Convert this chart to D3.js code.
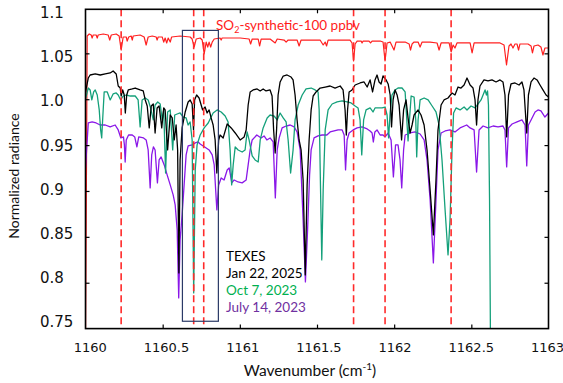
<!DOCTYPE html>
<html>
<head>
<meta charset="utf-8">
<script src="https://cdn.jsdelivr.net/npm/d3@7"></script>
<style>
  html, body { margin: 0; padding: 0; background: #fff; }
  svg { display: block; }
</style>
</head>
<body>
<svg id="chart" width="563" height="383"></svg>
<script>
// Synthetic SO2 spectrum (100 ppbv), [wavenumber cm^-1, normalized radiance]
const so2Synthetic = [
  [1160.000, 0.730], [1160.011, 1.0689], [1160.024, 1.0711], [1160.037, 1.0700], [1160.043, 1.0667],
  [1160.050, 1.0700], [1160.069, 1.0700], [1160.076, 1.0667], [1160.082, 1.0700], [1160.115, 1.0711],
  [1160.147, 1.0700], [1160.157, 1.0645], [1160.167, 1.0700], [1160.199, 1.0711], [1160.218, 1.0689],
  [1160.231, 1.0536], [1160.244, 1.0678], [1160.264, 1.0678], [1160.270, 1.0634], [1160.280, 1.0678],
  [1160.296, 1.0689], [1160.303, 1.0645], [1160.309, 1.0689], [1160.354, 1.0700], [1160.380, 1.0678],
  [1160.393, 1.0591], [1160.406, 1.0678], [1160.432, 1.0689], [1160.458, 1.0678], [1160.464, 1.0645],
  [1160.471, 1.0678], [1160.497, 1.0678], [1160.507, 1.0623], [1160.516, 1.0667], [1160.526, 1.0613],
  [1160.536, 1.0667], [1160.549, 1.0623], [1160.558, 1.0678], [1160.613, 1.0689], [1160.678, 1.0678],
  [1160.691, 1.0656], [1160.704, 1.0569], [1160.717, 1.0656], [1160.743, 1.0667], [1160.756, 1.0645],
  [1160.769, 1.0493], [1160.782, 1.0623], [1160.792, 1.0569], [1160.801, 1.0623], [1160.811, 1.0569],
  [1160.821, 1.0623], [1160.834, 1.0656], [1160.872, 1.0667], [1160.879, 1.0645], [1160.885, 1.0667],
  [1161.002, 1.0667], [1161.060, 1.0656], [1161.070, 1.0602], [1161.080, 1.0656], [1161.119, 1.0656],
  [1161.128, 1.0580], [1161.138, 1.0656], [1161.196, 1.0656], [1161.229, 1.0613], [1161.242, 1.0656],
  [1161.287, 1.0645], [1161.300, 1.0623], [1161.313, 1.0645], [1161.371, 1.0645], [1161.384, 1.0580],
  [1161.397, 1.0645], [1161.520, 1.0645], [1161.540, 1.0591], [1161.553, 1.0623], [1161.562, 1.0580],
  [1161.572, 1.0645], [1161.650, 1.0645], [1161.714, 1.0645], [1161.727, 1.0613], [1161.737, 1.0417],
  [1161.747, 1.0602], [1161.760, 1.0634], [1161.786, 1.0634], [1161.792, 1.0613], [1161.799, 1.0634],
  [1161.837, 1.0634], [1161.847, 1.0613], [1161.857, 1.0634], [1161.909, 1.0634], [1161.928, 1.0623],
  [1161.941, 1.0417], [1161.954, 1.0613], [1161.974, 1.0623], [1161.999, 1.0536], [1162.012, 1.0623],
  [1162.071, 1.0623], [1162.097, 1.0602], [1162.106, 1.0536], [1162.116, 1.0602], [1162.129, 1.0623],
  [1162.155, 1.0623], [1162.168, 1.0569], [1162.181, 1.0623], [1162.233, 1.0623], [1162.278, 1.0613],
  [1162.291, 1.0536], [1162.304, 1.0613], [1162.356, 1.0613], [1162.369, 1.0515], [1162.382, 1.0591],
  [1162.394, 1.0558], [1162.407, 1.0613], [1162.492, 1.0613], [1162.505, 1.0504], [1162.518, 1.0613],
  [1162.621, 1.0613], [1162.686, 1.0613], [1162.712, 1.0591], [1162.728, 1.0373], [1162.744, 1.0580],
  [1162.757, 1.0602], [1162.770, 1.0558], [1162.783, 1.0602], [1162.796, 1.0602], [1162.806, 1.0536],
  [1162.815, 1.0602], [1162.867, 1.0602], [1162.887, 1.0580], [1162.896, 1.0504], [1162.906, 1.0580],
  [1162.932, 1.0591], [1162.951, 1.0569], [1162.964, 1.0482], [1162.977, 1.0558], [1163.000, 1.0558]
];

// TEXES, Jan 22, 2025
const texesJan2025 = [
  [1160.000, 1.0079], [1160.018, 1.0231], [1160.030, 1.0264], [1160.063, 1.0275], [1160.095, 1.0264],
  [1160.128, 1.0275], [1160.160, 1.0286], [1160.179, 1.0308], [1160.199, 1.0275], [1160.212, 1.0144],
  [1160.225, 1.0122], [1160.231, 1.0035], [1160.241, 1.0101], [1160.251, 1.0046], [1160.258, 0.9850],
  [1160.267, 1.0046], [1160.277, 1.0101], [1160.303, 1.0112], [1160.322, 1.0122], [1160.354, 1.0101],
  [1160.374, 1.0090], [1160.387, 0.9992], [1160.400, 0.9926], [1160.413, 0.9687], [1160.426, 0.9926],
  [1160.439, 0.9948], [1160.451, 0.9632], [1160.464, 0.9905], [1160.477, 0.9926], [1160.494, 0.9687],
  [1160.507, 0.9905], [1160.516, 0.9883], [1160.532, 0.9447], [1160.549, 0.9828], [1160.562, 0.9796],
  [1160.575, 0.9556], [1160.587, 0.9719], [1160.597, 0.9447], [1160.605, 0.8107], [1160.613, 0.9338],
  [1160.626, 0.9687], [1160.646, 0.9861], [1160.665, 0.9970], [1160.678, 0.9992], [1160.691, 0.9948],
  [1160.700, 0.9665], [1160.707, 0.9992], [1160.720, 1.0046], [1160.736, 1.0013], [1160.759, 0.9883],
  [1160.775, 0.9915], [1160.788, 0.9850], [1160.801, 0.9883], [1160.814, 0.9796], [1160.827, 0.9719],
  [1160.840, 0.9556], [1160.851, 0.9196], [1160.863, 0.9556], [1160.872, 0.9610], [1160.892, 0.9578],
  [1160.918, 0.9730], [1160.944, 0.9687], [1160.970, 0.9632], [1161.002, 0.9556], [1161.028, 0.9589],
  [1161.041, 0.9665], [1161.054, 0.9937], [1161.067, 1.0079], [1161.086, 1.0101], [1161.112, 1.0112],
  [1161.132, 1.0090], [1161.151, 1.0112], [1161.170, 1.0090], [1161.196, 1.0101], [1161.209, 1.0035],
  [1161.219, 0.9665], [1161.229, 0.9414], [1161.238, 0.9665], [1161.248, 1.0046], [1161.261, 1.0188],
  [1161.281, 1.0253], [1161.306, 1.0264], [1161.332, 1.0242], [1161.345, 1.0210], [1161.358, 1.0046],
  [1161.371, 0.9774], [1161.384, 0.9556], [1161.397, 0.9447], [1161.410, 0.9120], [1161.424, 0.8085],
  [1161.436, 0.9066], [1161.449, 0.9556], [1161.462, 0.9883], [1161.475, 1.0035], [1161.494, 1.0079],
  [1161.520, 1.0122], [1161.553, 1.0133], [1161.585, 1.0144], [1161.617, 1.0122], [1161.650, 1.0144],
  [1161.669, 1.0101], [1161.682, 0.9883], [1161.690, 0.9610], [1161.698, 0.9883], [1161.708, 1.0079],
  [1161.727, 1.0101], [1161.747, 1.0155], [1161.779, 1.0177], [1161.805, 1.0188], [1161.825, 1.0133],
  [1161.844, 1.0210], [1161.860, 1.0079], [1161.876, 1.0210], [1161.889, 1.0264], [1161.902, 1.0188],
  [1161.915, 1.0166], [1161.928, 1.0253], [1161.948, 1.0210], [1161.961, 1.0166], [1161.974, 1.0046],
  [1161.983, 0.9698], [1161.993, 0.9992], [1162.006, 1.0101], [1162.019, 1.0046], [1162.032, 0.9937],
  [1162.048, 0.9556], [1162.061, 0.9883], [1162.077, 0.9992], [1162.090, 0.9796], [1162.103, 0.9632],
  [1162.116, 0.9719], [1162.129, 0.9828], [1162.155, 0.9883], [1162.174, 0.9828], [1162.194, 0.9719],
  [1162.213, 0.9447], [1162.233, 0.9011], [1162.254, 0.8521], [1162.271, 0.9120], [1162.284, 0.9665],
  [1162.304, 0.9937], [1162.323, 0.9992], [1162.349, 1.0013], [1162.375, 1.0068], [1162.394, 1.0046],
  [1162.414, 1.0133], [1162.433, 1.0122], [1162.453, 1.0155], [1162.472, 1.0231], [1162.492, 1.0155],
  [1162.511, 1.0122], [1162.524, 0.9992], [1162.534, 0.9719], [1162.543, 0.9992], [1162.556, 1.0144],
  [1162.582, 1.0210], [1162.608, 1.0199], [1162.634, 1.0210], [1162.660, 1.0188], [1162.686, 1.0210],
  [1162.705, 1.0188], [1162.718, 1.0046], [1162.729, 0.9589], [1162.741, 1.0046], [1162.757, 1.0166],
  [1162.783, 1.0177], [1162.809, 1.0155], [1162.828, 1.0188], [1162.841, 1.0101], [1162.859, 0.9632],
  [1162.870, 1.0046], [1162.887, 1.0188], [1162.906, 1.0231], [1162.926, 1.0210], [1162.945, 1.0155],
  [1162.964, 1.0101], [1162.984, 1.0046], [1163.000, 1.0024]
];

// TEXES, Oct 7, 2023
const texesOct2023 = [
  [1160.000, 1.0003], [1160.018, 1.0122], [1160.030, 1.0101], [1160.041, 0.9992], [1160.053, 1.0079],
  [1160.063, 1.0101], [1160.076, 1.0046], [1160.089, 0.9883], [1160.098, 0.9665], [1160.105, 0.9578],
  [1160.111, 0.9774], [1160.121, 1.0079], [1160.141, 1.0079], [1160.160, 0.9992], [1160.179, 1.0057],
  [1160.199, 1.0068], [1160.212, 1.0046], [1160.228, 0.9992], [1160.244, 1.0035], [1160.264, 1.0046],
  [1160.290, 1.0035], [1160.322, 1.0035], [1160.341, 0.9992], [1160.354, 0.9698], [1160.367, 0.9992],
  [1160.387, 1.0013], [1160.406, 0.9992], [1160.422, 0.9905], [1160.439, 0.9774], [1160.451, 0.9937],
  [1160.468, 0.9970], [1160.484, 0.9948], [1160.497, 0.9774], [1160.507, 0.9883], [1160.519, 0.9196],
  [1160.532, 0.9861], [1160.549, 0.9883], [1160.565, 0.9447], [1160.578, 0.9828], [1160.594, 0.9839],
  [1160.613, 0.9850], [1160.633, 0.9806], [1160.652, 0.9796], [1160.665, 0.9719], [1160.678, 0.9752],
  [1160.691, 0.9556], [1160.701, 0.7889], [1160.711, 0.9229], [1160.723, 0.9502], [1160.743, 0.9610],
  [1160.769, 0.9687], [1160.795, 0.9741], [1160.827, 0.9850], [1160.853, 0.9883], [1160.879, 0.9861],
  [1160.905, 0.9817], [1160.924, 0.9752], [1160.937, 0.9447], [1160.947, 0.9066], [1160.957, 0.9284],
  [1160.970, 0.9480], [1160.989, 0.9447], [1161.015, 0.9425], [1161.034, 0.9447], [1161.047, 0.9643],
  [1161.060, 0.9556], [1161.080, 0.9382], [1161.099, 0.9338], [1161.119, 0.9316], [1161.132, 0.9556],
  [1161.151, 0.9687], [1161.177, 0.9796], [1161.196, 0.9828], [1161.222, 0.9817], [1161.242, 0.9774],
  [1161.261, 0.9850], [1161.281, 0.9796], [1161.300, 0.9752], [1161.313, 0.9556], [1161.329, 0.9196],
  [1161.345, 0.9447], [1161.358, 0.9774], [1161.378, 0.9937], [1161.404, 1.0046], [1161.429, 1.0112],
  [1161.462, 1.0122], [1161.488, 1.0101], [1161.507, 1.0079], [1161.514, 0.9883], [1161.523, 0.9011],
  [1161.531, 0.8249], [1161.540, 0.9011], [1161.553, 0.9665], [1161.572, 0.9883], [1161.598, 0.9948],
  [1161.630, 0.9970], [1161.663, 0.9981], [1161.695, 0.9970], [1161.721, 0.9959], [1161.747, 0.9926],
  [1161.766, 0.9905], [1161.779, 0.9774], [1161.790, 0.9393], [1161.802, 0.9774], [1161.818, 0.9883],
  [1161.844, 0.9905], [1161.863, 0.9861], [1161.876, 0.9905], [1161.896, 0.9905], [1161.922, 0.9905],
  [1161.941, 0.9915], [1161.954, 0.9828], [1161.964, 0.9578], [1161.974, 0.9861], [1161.986, 1.0046],
  [1162.006, 1.0101], [1162.025, 1.0122], [1162.051, 1.0122], [1162.071, 1.0079], [1162.082, 0.9774],
  [1162.090, 0.9545], [1162.100, 0.9796], [1162.110, 1.0035], [1162.129, 1.0024], [1162.140, 0.9774],
  [1162.146, 0.9371], [1162.155, 0.9774], [1162.168, 0.9992], [1162.194, 1.0013], [1162.220, 0.9992],
  [1162.246, 0.9926], [1162.271, 0.9861], [1162.291, 0.9719], [1162.310, 0.9338], [1162.330, 0.8793],
  [1162.349, 0.8303], [1162.362, 0.8684], [1162.375, 0.9447], [1162.385, 0.9850], [1162.401, 0.9905],
  [1162.427, 0.9883], [1162.453, 0.9915], [1162.472, 0.9883], [1162.498, 0.9926], [1162.524, 0.9905],
  [1162.543, 0.9948], [1162.563, 0.9992], [1162.576, 1.0046], [1162.589, 1.0101], [1162.598, 1.0046],
  [1162.605, 1.0090], [1162.611, 0.9937], [1162.618, 0.8902], [1162.624, 0.7377]
];

// TEXES, July 14, 2023
const texesJul2023 = [
  [1160.000, 0.9251], [1160.018, 0.9741], [1160.043, 0.9752], [1160.069, 0.9741], [1160.095, 0.9719],
  [1160.128, 0.9719], [1160.160, 0.9698], [1160.192, 0.9719], [1160.212, 0.9665], [1160.229, 0.9578],
  [1160.246, 0.9589], [1160.252, 0.9502], [1160.257, 0.9316], [1160.264, 0.9556], [1160.279, 0.9610],
  [1160.303, 0.9610], [1160.319, 0.9589], [1160.333, 0.9480], [1160.345, 0.9589], [1160.376, 0.9578],
  [1160.393, 0.9556], [1160.406, 0.9447], [1160.419, 0.9033], [1160.429, 0.9393], [1160.440, 0.9480],
  [1160.451, 0.9447], [1160.466, 0.9088], [1160.477, 0.9338], [1160.490, 0.9371], [1160.510, 0.9284],
  [1160.529, 0.9175], [1160.549, 0.9066], [1160.568, 0.8957], [1160.581, 0.8848], [1160.594, 0.8576],
  [1160.604, 0.7835], [1160.613, 0.8467], [1160.626, 0.8739], [1160.639, 0.9066], [1160.652, 0.9393],
  [1160.665, 0.9491], [1160.691, 0.9502], [1160.711, 0.9523], [1160.730, 0.9534], [1160.743, 0.9512],
  [1160.762, 0.9491], [1160.782, 0.9469], [1160.801, 0.9447], [1160.821, 0.9393], [1160.834, 0.9284],
  [1160.851, 0.8793], [1160.863, 0.9066], [1160.879, 0.9142], [1160.898, 0.9120], [1160.918, 0.9229],
  [1160.931, 0.9251], [1160.948, 0.9088], [1160.963, 0.9120], [1160.989, 0.9098], [1161.015, 0.9088],
  [1161.041, 0.9120], [1161.054, 0.9284], [1161.067, 0.9447], [1161.080, 0.9556], [1161.110, 0.9610],
  [1161.138, 0.9578], [1161.157, 0.9600], [1161.175, 0.9556], [1161.196, 0.9578], [1161.216, 0.9534],
  [1161.230, 0.8924], [1161.242, 0.9447], [1161.255, 0.9578], [1161.274, 0.9687], [1161.300, 0.9708],
  [1161.326, 0.9719], [1161.352, 0.9698], [1161.371, 0.9643], [1161.391, 0.9447], [1161.410, 0.8684],
  [1161.425, 0.8009], [1161.439, 0.8576], [1161.452, 0.9175], [1161.462, 0.9447], [1161.481, 0.9578],
  [1161.507, 0.9600], [1161.533, 0.9610], [1161.564, 0.9610], [1161.585, 0.9643], [1161.611, 0.9654],
  [1161.637, 0.9665], [1161.663, 0.9665], [1161.676, 0.9610], [1161.685, 0.9229], [1161.695, 0.9556],
  [1161.708, 0.9632], [1161.734, 0.9665], [1161.760, 0.9687], [1161.792, 0.9698], [1161.825, 0.9676],
  [1161.844, 0.9654], [1161.857, 0.9632], [1161.865, 0.9534], [1161.875, 0.9643], [1161.889, 0.9665],
  [1161.909, 0.9610], [1161.928, 0.9610], [1161.941, 0.9589], [1161.961, 0.9632], [1161.980, 0.9556],
  [1161.995, 0.9153], [1162.009, 0.9502], [1162.025, 0.9502], [1162.038, 0.9338], [1162.049, 0.9033],
  [1162.061, 0.9447], [1162.071, 0.9610], [1162.103, 0.9632], [1162.135, 0.9643], [1162.168, 0.9621],
  [1162.194, 0.9556], [1162.213, 0.9338], [1162.233, 0.8902], [1162.254, 0.8216], [1162.271, 0.8902],
  [1162.284, 0.9447], [1162.304, 0.9632], [1162.330, 0.9654], [1162.362, 0.9665], [1162.394, 0.9643],
  [1162.427, 0.9687], [1162.470, 0.9719], [1162.492, 0.9687], [1162.518, 0.9665], [1162.534, 0.9207],
  [1162.550, 0.9665], [1162.576, 0.9708], [1162.608, 0.9687], [1162.641, 0.9708], [1162.673, 0.9698],
  [1162.705, 0.9708], [1162.718, 0.9665], [1162.729, 0.9262], [1162.741, 0.9687], [1162.764, 0.9730],
  [1162.796, 0.9752], [1162.828, 0.9774], [1162.848, 0.9719], [1162.859, 0.9273], [1162.870, 0.9719],
  [1162.887, 0.9774], [1162.913, 0.9861], [1162.932, 0.9883], [1162.951, 0.9872], [1162.977, 0.9806],
  [1163.000, 0.9850]
];

// SO2 line positions marked by dashed guides
const so2Lines = [1160.231, 1160.701, 1160.766, 1161.737, 1161.941, 1162.369];

// Highlighted window around the strongest SO2 pair
const boxWavenumbers = [1160.628, 1160.861];
const boxRadiance = [0.758, 1.075];

// Axis ticks
const xTicks = [1160, 1160.5, 1161, 1161.5, 1162, 1162.5, 1163];
const xTickLabels = ["1160", "1160.5", "1161", "1161.5", "1162", "1162.5", "1163"];
const yTicks = [0.75, 0.8, 0.85, 0.9, 0.95, 1.0, 1.05, 1.1];
const yTickLabels = ["0.75", "0.8", "0.85", "0.9", "0.95", "1.0", "1.05", "1.1"];

// Legend
const legendTitle = "TEXES";
const legendLabels = ["Jan 22, 2025", "Oct 7, 2023", "July 14, 2023"];
const legendColors = ["#000000", "#00b050", "#7030a0"];

const svg = d3.select("#chart");
const plotLeft = 85.5, plotRight = 548.5, plotTop = 9.3, plotBottom = 328.6;

const x = d3.scaleLinear().domain([1160, 1163]).range([plotLeft, plotRight]);
const y = d3.scaleLinear().domain([0.75, 1.098]).range([plotBottom, plotTop]);
// tick label placement
const xLab = d3.scaleLinear().domain([1160, 1163]).range([90.3, 547.5]);
const yLab = d3.scaleLinear().domain([0.75, 1.1]).range([321.7, 12.7]);

svg.append("defs").append("clipPath").attr("id", "plotClip")
  .append("rect").attr("x", plotLeft).attr("y", plotTop)
  .attr("width", plotRight - plotLeft).attr("height", plotBottom - plotTop);

const line = d3.line().x(d => x(d[0])).y(d => y(d[1]));
const plot = svg.append("g").attr("clip-path", "url(#plotClip)");

const series = [
  { data: so2Synthetic, color: "#ff2020", width: 1.2 },
  { data: texesJul2023, color: "#8a17e8", width: 1.3 },
  { data: texesOct2023, color: "#14a07a", width: 1.3 },
  { data: texesJan2025, color: "#000000", width: 1.3 }
];
series.forEach(s => {
  plot.append("path").datum(s.data)
    .attr("fill", "none").attr("stroke", s.color)
    .attr("stroke-width", s.width).attr("stroke-linejoin", "round")
    .attr("d", line);
});

// dashed SO2 guides
plot.selectAll("line.so2").data(so2Lines).enter().append("line")
  .attr("class", "so2")
  .attr("x1", d => x(d)).attr("x2", d => x(d))
  .attr("y1", plotTop).attr("y2", plotBottom)
  .attr("stroke", "#ff2a2a").attr("stroke-width", 1.6)
  .attr("stroke-dasharray", "7,4");

// highlight box
svg.append("rect")
  .attr("x", x(boxWavenumbers[0])).attr("y", y(boxRadiance[1]))
  .attr("width", x(boxWavenumbers[1]) - x(boxWavenumbers[0]))
  .attr("height", y(boxRadiance[0]) - y(boxRadiance[1]))
  .attr("fill", "none").attr("stroke", "#2b3a67").attr("stroke-width", 1.2);

// frame
svg.append("rect").attr("x", plotLeft).attr("y", plotTop)
  .attr("width", plotRight - plotLeft).attr("height", plotBottom - plotTop)
  .attr("fill", "none").attr("stroke", "#000").attr("stroke-width", 1.6);

// tick marks (inward on all four sides)
const innerX = xTicks.slice(1, -1);
const innerY = yTicks.filter(v => v > 0.75 && v < 1.09);
svg.append("g").attr("transform", `translate(0,${plotBottom})`)
  .call(d3.axisBottom(x).tickValues(innerX).tickSize(-4).tickFormat(""))
  .call(g => g.select(".domain").remove());
svg.append("g").attr("transform", `translate(0,${plotTop})`)
  .call(d3.axisTop(x).tickValues(innerX).tickSize(-4).tickFormat(""))
  .call(g => g.select(".domain").remove());
svg.append("g").attr("transform", `translate(${plotLeft},0)`)
  .call(d3.axisLeft(y).tickValues(innerY).tickSize(-4).tickFormat(""))
  .call(g => g.select(".domain").remove());
svg.append("g").attr("transform", `translate(${plotRight},0)`)
  .call(d3.axisRight(y).tickValues(innerY).tickSize(-4).tickFormat(""))
  .call(g => g.select(".domain").remove());
svg.selectAll(".tick line").attr("stroke", "#000").attr("stroke-width", 1.2);

// tick labels
svg.append("g").selectAll("text").data(xTicks).enter().append("text")
  .attr("x", d => xLab(d)).attr("y", 352)
  .attr("text-anchor", "middle")
  .attr("font-family", "DejaVu Sans, sans-serif").attr("font-size", 13)
  .attr("fill", "#111")
  .text((d, i) => xTickLabels[i]);

svg.append("g").selectAll("text").data(yTicks).enter().append("text")
  .attr("x", 40).attr("y", d => yLab(d))
  .attr("dy", "0.36em")
  .attr("font-family", "DejaVu Sans, sans-serif").attr("font-size", 15)
  .attr("fill", "#111")
  .text((d, i) => yTickLabels[i]);

// axis titles
const xTitle = svg.append("text").attr("x", 310).attr("y", 375.5)
  .attr("text-anchor", "middle")
  .attr("font-family", "Lato, 'Open Sans', sans-serif").attr("font-size", 15.5)
  .attr("fill", "#111");
xTitle.append("tspan").text("Wavenumber (cm");
xTitle.append("tspan").attr("font-size", 10).attr("dy", -5.5).text("-1");
xTitle.append("tspan").attr("dy", 5.5).text(")");

svg.append("text")
  .attr("transform", "translate(18.5,176) rotate(-90)")
  .attr("text-anchor", "middle")
  .attr("font-family", "Lato, 'Open Sans', sans-serif").attr("font-size", 14)
  .attr("fill", "#111")
  .text("Normalized radiance");

// SO2 synthetic label
const so2Label = svg.append("text").attr("x", 216).attr("y", 29.5)
  .attr("font-family", "Lato, 'Open Sans', sans-serif").attr("font-size", 13.5)
  .attr("fill", "#ff1a1a");
so2Label.append("tspan").text("SO");
so2Label.append("tspan").attr("font-size", 9).attr("dy", 3).text("2");
so2Label.append("tspan").attr("dy", -3).text("-synthetic-100 ppbv");

// legend
const legend = svg.append("g").attr("font-family", "Lato, 'Open Sans', sans-serif")
  .attr("font-size", 13.5);
legend.append("text").attr("x", 226).attr("y", 260.5).attr("fill", "#000").text(legendTitle);
legend.selectAll("text.entry").data(legendLabels).enter().append("text")
  .attr("class", "entry")
  .attr("x", 226).attr("y", (d, i) => 278 + i * 17)
  .attr("fill", (d, i) => legendColors[i])
  .text(d => d);
</script>
</body>
</html>
